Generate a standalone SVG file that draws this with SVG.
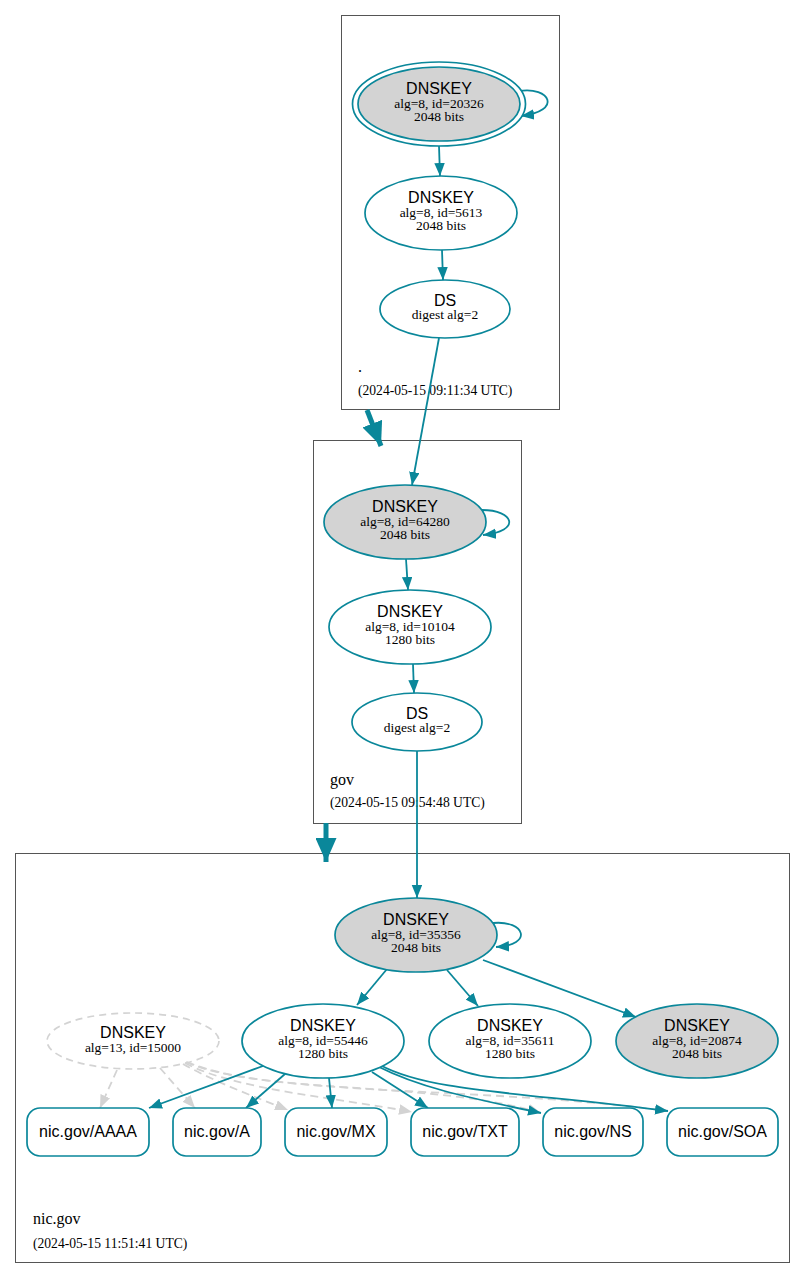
<svg xmlns="http://www.w3.org/2000/svg" width="805" height="1278" viewBox="0 0 805 1278">
<defs>
<style>
.cl{fill:#fff;stroke:#555;stroke-width:1}
.n{fill:#fff;stroke:#0a879a;stroke-width:1.7}
.g{fill:#d3d3d3;stroke:#0a879a;stroke-width:1.7}
.o{fill:#fff;stroke:#0a879a;stroke-width:1.7}
.d{fill:none;stroke:#d3d3d3;stroke-width:1.7;stroke-dasharray:7,5}
.e{fill:none;stroke:#0a879a;stroke-width:1.8}
.ed{fill:none;stroke:#d3d3d3;stroke-width:1.8;stroke-dasharray:8,5}
.big{fill:none;stroke:#0a879a;stroke-width:5}
.h{font-family:"Liberation Sans",Arial,sans-serif;font-size:16px;fill:#000;text-anchor:middle}
.s{font-family:"Liberation Serif","Times New Roman",serif;font-size:13.5px;fill:#000;text-anchor:middle}
.lab{font-family:"Liberation Serif","Times New Roman",serif;font-size:16px;fill:#000}
.dt{font-family:"Liberation Serif","Times New Roman",serif;font-size:13.6px;fill:#000}
</style>
<marker id="at" markerUnits="userSpaceOnUse" markerWidth="14" markerHeight="11" refX="13" refY="5.25" orient="auto"><path d="M0,0 L13,5.25 L0,10.5 z" fill="#0a879a"/></marker>
<marker id="ag" markerUnits="userSpaceOnUse" markerWidth="14" markerHeight="11" refX="13" refY="5.25" orient="auto"><path d="M0,0 L13,5.25 L0,10.5 z" fill="#d3d3d3"/></marker>
<marker id="ab" markerUnits="userSpaceOnUse" markerWidth="25" markerHeight="21" refX="24" refY="10.5" orient="auto"><path d="M0,0 L24,10.5 L0,21 z" fill="#0a879a"/></marker>
</defs>
<rect width="805" height="1278" fill="#fff"/>

<g id="cluster-root">
<rect class="cl" x="341.5" y="15.5" width="218" height="394"/>
<text class="lab" x="358" y="372">.</text>
<text class="dt" x="358" y="395">(2024-05-15 09:11:34 UTC)</text>
</g>
<g id="cluster-gov">
<rect class="cl" x="313.5" y="440.5" width="208" height="383"/>
<text class="lab" x="330" y="785">gov</text>
<text class="dt" x="330" y="807">(2024-05-15 09:54:48 UTC)</text>
</g>
<g id="cluster-nicgov">
<rect class="cl" x="15.5" y="853.5" width="774" height="409"/>
<text class="lab" x="33" y="1224">nic.gov</text>
<text class="dt" x="33" y="1248">(2024-05-15 11:51:41 UTC)</text>
</g>

<g id="connectors">
<path class="big" d="M367,410 L381,446" marker-end="url(#ab)"/>
<path class="big" d="M326,823 L326,862" marker-end="url(#ab)"/>
<path class="e" d="M519,91 C550,86 563,111 521,116" marker-end="url(#at)"/>
<path class="e" d="M439,146 L440,176" marker-end="url(#at)"/>
<path class="e" d="M442,250 L443,280" marker-end="url(#at)"/>
<path class="e" d="M439,338 L412,485" marker-end="url(#at)"/>
<path class="e" d="M482,510 C514,510 522,531 483,535" marker-end="url(#at)"/>
<path class="e" d="M406,559 L408,590" marker-end="url(#at)"/>
<path class="e" d="M413,664 L414,693" marker-end="url(#at)"/>
<path class="e" d="M417,751 L417,898" marker-end="url(#at)"/>
<path class="e" d="M493,923 C525,920 534,945 496,947" marker-end="url(#at)"/>
<path class="e" d="M387,969 L357,1005" marker-end="url(#at)"/>
<path class="e" d="M447,970 L478,1006" marker-end="url(#at)"/>
<path class="e" d="M483,960 L636,1017" marker-end="url(#at)"/>
<path class="ed" d="M117,1070 L100,1108" marker-end="url(#ag)"/>
<path class="ed" d="M160,1068 L195,1108" marker-end="url(#ag)"/>
<path class="ed" d="M183,1064 C215,1082 255,1097 288,1110" marker-end="url(#ag)"/>
<path class="ed" d="M185,1063 C235,1090 340,1098 412,1112" marker-end="url(#ag)"/>
<path class="ed" d="M186,1062 C260,1095 430,1080 541,1113" marker-end="url(#ag)"/>
<path class="ed" d="M187,1062 C270,1097 470,1085 668,1111" marker-end="url(#ag)"/>
<path class="e" d="M263,1066 L149,1108" marker-end="url(#at)"/>
<path class="e" d="M285,1074 L246,1108" marker-end="url(#at)"/>
<path class="e" d="M329,1078 L332,1108" marker-end="url(#at)"/>
<path class="e" d="M372,1072 L428,1108" marker-end="url(#at)"/>
<path class="e" d="M377,1066 C420,1088 470,1098 541,1113" marker-end="url(#at)"/>
<path class="e" d="M380,1065 C430,1092 520,1092 668,1111" marker-end="url(#at)"/>
</g>

<g id="dnskey-20326">
<ellipse class="o" cx="439" cy="104" rx="86.5" ry="42"/>
<ellipse class="g" cx="439" cy="104" rx="81" ry="37"/>
<text class="h" x="439" y="94">DNSKEY</text>
<text class="s" x="439" y="108">alg=8, id=20326</text>
<text class="s" x="439" y="121">2048 bits</text>
</g>
<g id="dnskey-5613">
<ellipse class="n" cx="441" cy="213" rx="76" ry="37"/>
<text class="h" x="441" y="203">DNSKEY</text>
<text class="s" x="441" y="217">alg=8, id=5613</text>
<text class="s" x="441" y="230">2048 bits</text>
</g>
<g id="ds-root">
<ellipse class="n" cx="445" cy="309" rx="65" ry="29"/>
<text class="h" x="445" y="306">DS</text>
<text class="s" x="445" y="319">digest alg=2</text>
</g>

<g id="dnskey-64280">
<ellipse class="g" cx="405" cy="522" rx="81" ry="37"/>
<text class="h" x="405" y="512">DNSKEY</text>
<text class="s" x="405" y="526">alg=8, id=64280</text>
<text class="s" x="405" y="539">2048 bits</text>
</g>
<g id="dnskey-10104">
<ellipse class="n" cx="410" cy="627" rx="81" ry="37"/>
<text class="h" x="410" y="617">DNSKEY</text>
<text class="s" x="410" y="631">alg=8, id=10104</text>
<text class="s" x="410" y="644">1280 bits</text>
</g>
<g id="ds-gov">
<ellipse class="n" cx="417" cy="722" rx="65" ry="29"/>
<text class="h" x="417" y="719">DS</text>
<text class="s" x="417" y="732">digest alg=2</text>
</g>

<g id="dnskey-35356">
<ellipse class="g" cx="416" cy="935" rx="81" ry="37"/>
<text class="h" x="416" y="925">DNSKEY</text>
<text class="s" x="416" y="939">alg=8, id=35356</text>
<text class="s" x="416" y="952">2048 bits</text>
</g>
<g id="dnskey-15000">
<ellipse class="d" cx="133" cy="1041" rx="86" ry="28"/>
<text class="h" x="133" y="1038">DNSKEY</text>
<text class="s" x="133" y="1052">alg=13, id=15000</text>
</g>
<g id="dnskey-55446">
<ellipse class="n" cx="323" cy="1041" rx="81" ry="37"/>
<text class="h" x="323" y="1031">DNSKEY</text>
<text class="s" x="323" y="1045">alg=8, id=55446</text>
<text class="s" x="323" y="1058">1280 bits</text>
</g>
<g id="dnskey-35611">
<ellipse class="n" cx="510" cy="1041" rx="81" ry="37"/>
<text class="h" x="510" y="1031">DNSKEY</text>
<text class="s" x="510" y="1045">alg=8, id=35611</text>
<text class="s" x="510" y="1058">1280 bits</text>
</g>
<g id="dnskey-20874">
<ellipse class="g" cx="697" cy="1041" rx="81" ry="37"/>
<text class="h" x="697" y="1031">DNSKEY</text>
<text class="s" x="697" y="1045">alg=8, id=20874</text>
<text class="s" x="697" y="1058">2048 bits</text>
</g>

<g id="rr-aaaa">
<rect class="n" x="27" y="1108" width="122" height="48" rx="13"/>
<text class="h" x="88" y="1137">nic.gov/AAAA</text>
</g>
<g id="rr-a">
<rect class="n" x="173" y="1108" width="88" height="48" rx="13"/>
<text class="h" x="217" y="1137">nic.gov/A</text>
</g>
<g id="rr-mx">
<rect class="n" x="285" y="1108" width="102" height="48" rx="13"/>
<text class="h" x="336" y="1137">nic.gov/MX</text>
</g>
<g id="rr-txt">
<rect class="n" x="411" y="1108" width="108" height="48" rx="13"/>
<text class="h" x="465" y="1137">nic.gov/TXT</text>
</g>
<g id="rr-ns">
<rect class="n" x="543" y="1108" width="100" height="48" rx="13"/>
<text class="h" x="593" y="1137">nic.gov/NS</text>
</g>
<g id="rr-soa">
<rect class="n" x="667" y="1108" width="111" height="48" rx="13"/>
<text class="h" x="722.5" y="1137">nic.gov/SOA</text>
</g>
</svg>
